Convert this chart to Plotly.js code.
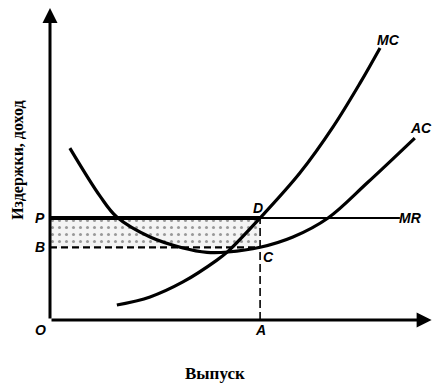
<!DOCTYPE html>
<html>
<head>
<meta charset="utf-8">
<script src="https://cdn.plot.ly/plotly-3.0.1.min.js"></script>
<style>html,body{margin:0;padding:0;background:#fff}#chart{width:435px;height:387px}</style>
</head>
<body>
<div id="chart"></div>
<script>
// Average cost curve (AC)
const acX = [0.52, 1.31, 1.75, 2.62, 3.48, 4.11, 4.66, 5.50, 6.36, 7.28, 8.30, 9.55];
const acY = [5.51, 3.97, 3.30, 2.66, 2.31, 2.17, 2.18, 2.33, 2.66, 3.27, 4.39, 5.83];
// Marginal cost curve (MC)
const mcX = [1.75, 2.62, 3.48, 4.37, 4.66, 5.50, 6.54, 7.41, 8.12, 8.64];
const mcY = [0.48, 0.74, 1.22, 1.92, 2.20, 3.27, 4.71, 6.19, 7.60, 8.72];
// Key levels
const priceP = 3.27;     // P = MR
const costB = 2.33;      // B = AC at output A
const outputA = 5.5;     // A
const mrEndX = 9.16;     // end of MR line
const axisMaxX = 9.99;
const axisMaxY = 10.0;

const labels = [
  {t: 'MC', x: 8.85, y: 8.97},
  {t: 'AC', x: 9.71, y: 6.15},
  {t: 'MR', x: 9.45, y: priceP},
  {t: 'D', x: 5.45, y: 3.59},
  {t: 'C', x: 5.71, y: 2.02},
  {t: 'P', x: -0.26, y: priceP},
  {t: 'B', x: -0.26, y: costB},
  {t: 'O', x: -0.26, y: -0.32},
  {t: 'A', x: outputA, y: -0.32}
];

const traces = [
  { // shaded profit rectangle
    x: [0, outputA, outputA, 0, 0],
    y: [priceP, priceP, costB, costB, priceP],
    mode: 'lines', fill: 'toself', line: {width: 0},
    fillcolor: 'rgba(225,225,225,0.6)',
    fillpattern: {shape: '.', fgcolor: '#999', bgcolor: 'rgba(240,240,240,0.7)', size: 7, solidity: 0.15},
    hoverinfo: 'skip'
  },
  { // dashed B line
    x: [0, outputA], y: [costB, costB], mode: 'lines',
    line: {color: '#000', width: 2.2, dash: '7px,4px'}
  },
  { // dashed vertical at A
    x: [outputA, outputA], y: [0, priceP], mode: 'lines',
    line: {color: '#000', width: 1.6, dash: '8px,4px'}
  },
  { // MR thick part
    x: [0, outputA], y: [priceP, priceP], mode: 'lines',
    line: {color: '#000', width: 3.8}
  },
  { // MR thin part
    x: [outputA, mrEndX], y: [priceP, priceP], mode: 'lines',
    line: {color: '#000', width: 2}
  },
  { // AC
    x: acX, y: acY, mode: 'lines',
    line: {color: '#000', width: 3.2, shape: 'spline', smoothing: 1.0}
  },
  { // MC
    x: mcX, y: mcY, mode: 'lines',
    line: {color: '#000', width: 3.2, shape: 'spline', smoothing: 1.0}
  }
];

const annotations = labels.map(l => ({
  text: '<b><i>' + l.t + '</i></b>', x: l.x, y: l.y, xref: 'x', yref: 'y',
  showarrow: false, font: {family: 'Liberation Sans', size: 14, color: '#000'}
}));

// axes with arrows
annotations.push({x: axisMaxX, y: 0, ax: 0, ay: 0, xref: 'x', yref: 'y', axref: 'x', ayref: 'y',
  showarrow: true, arrowhead: 2, arrowsize: 1, arrowwidth: 3, arrowcolor: '#000', text: ''});
annotations.push({x: 0, y: axisMaxY, ax: 0, ay: 0, xref: 'x', yref: 'y', axref: 'x', ayref: 'y',
  showarrow: true, arrowhead: 2, arrowsize: 1, arrowwidth: 3, arrowcolor: '#000', text: ''});

// axis titles
annotations.push({text: '<b>Выпуск</b>', x: 4.32, y: -1.70, xref: 'x', yref: 'y', showarrow: false,
  font: {family: 'Liberation Serif', size: 17, color: '#000'}});
annotations.push({text: '<b>Издержки, доход</b>', x: -0.84, y: 5.13, xref: 'x', yref: 'y', showarrow: false,
  textangle: -90, font: {family: 'Liberation Serif', size: 16, color: '#000'}});

const layout = {
  width: 435, height: 387,
  margin: {l: 0, r: 0, t: 0, b: 0},
  paper_bgcolor: '#fff', plot_bgcolor: '#fff',
  showlegend: false,
  xaxis: {range: [-1.309, 10.079], visible: false, fixedrange: true},
  yaxis: {range: [-2.147, 10.256], visible: false, fixedrange: true},
  annotations: annotations
};

Plotly.newPlot('chart', traces, layout, {displayModeBar: false, staticPlot: true});
</script>
</body>
</html>
